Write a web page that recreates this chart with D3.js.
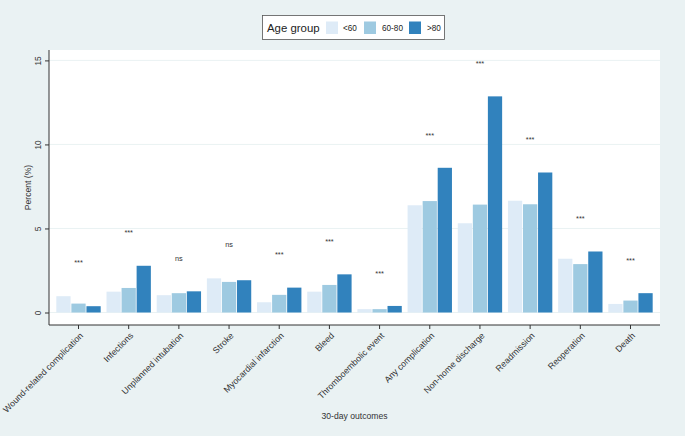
<!DOCTYPE html>
<html>
<head>
<meta charset="utf-8">
<script src="https://cdn.jsdelivr.net/npm/d3@7"></script>
<style>
  body { margin: 0; background: #eaf2f3; }
  svg { display: block; font-family: "Liberation Sans", Arial, sans-serif; }
</style>
</head>
<body>
<script>
// data
const outcomes = ["Wound-related complication", "Infections", "Unplanned intubation", "Stroke",
  "Myocardial infarction", "Bleed", "Thromboembolic event", "Any complication",
  "Non-home discharge", "Readmission", "Reoperation", "Death"];
const ageGroups = ["<60", "60-80", ">80"];
const under60 = [0.97, 1.24, 1.03, 2.03, 0.61, 1.24, 0.2, 6.38, 5.31, 6.65, 3.2, 0.51];
const from60to80 = [0.53, 1.46, 1.15, 1.82, 1.05, 1.64, 0.2, 6.63, 6.42, 6.44, 2.88, 0.71];
const over80 = [0.375, 2.78, 1.26, 1.92, 1.48, 2.27, 0.39, 8.61, 12.86, 8.33, 3.63, 1.15];
const sigLabels = ["***", "***", "ns", "ns", "***", "***", "***", "***", "***", "***", "***", "***"];
const sigHeights = [3.05, 4.85, 3.2, 4.04, 3.54, 4.34, 2.42, 10.65, 14.9, 10.4, 5.68, 3.17];
const yTicks = [0, 5, 10, 15];

const width = 685, height = 436;
const margin = { top: 50, right: 25, bottom: 111, left: 49 };
const colors = ["#deebf7", "#9ecae1", "#3182bd"];
const series = [under60, from60to80, over80];
const ink = "#333";

const svg = d3.select("body").append("svg")
  .attr("width", width).attr("height", height);

svg.append("rect").attr("width", width).attr("height", height).attr("fill", "#eaf2f3");

const x0 = d3.scaleBand()
  .domain(outcomes)
  .range([margin.left, width - margin.right])
  .paddingInner(0.1)
  .paddingOuter(0.138);

const x1 = d3.scaleBand()
  .domain(ageGroups)
  .range([0, x0.bandwidth()]);

const y = d3.scaleLinear()
  .domain([0, 15])
  .range([312.5, 60.4]);

// plot region
svg.append("rect")
  .attr("x", margin.left).attr("y", margin.top)
  .attr("width", width - margin.right - margin.left)
  .attr("height", height - margin.bottom - margin.top)
  .attr("fill", "#fff");

// grid
svg.append("g")
  .selectAll("line")
  .data(yTicks)
  .join("line")
  .attr("x1", margin.left).attr("x2", width - margin.right)
  .attr("y1", d => y(d)).attr("y2", d => y(d))
  .attr("stroke", "#eaf2f3").attr("stroke-width", 1);

// bars
const group = svg.append("g")
  .selectAll("g")
  .data(outcomes)
  .join("g")
  .attr("transform", d => `translate(${x0(d)},0)`);

group.selectAll("rect")
  .data((d, i) => ageGroups.map((a, j) => ({ key: a, value: series[j][i], j })))
  .join("rect")
  .attr("x", d => x1(d.key) + 0.4)
  .attr("width", x1.bandwidth() - 0.8)
  .attr("y", d => y(d.value))
  .attr("height", d => y(0) - y(d.value))
  .attr("fill", d => colors[d.j]);

// significance labels
svg.append("g")
  .selectAll("text")
  .data(outcomes)
  .join("text")
  .attr("x", d => x0(d) + x0.bandwidth() / 2)
  .attr("y", (d, i) => y(sigHeights[i]) + (sigLabels[i] === "ns" ? 2.5 : 4))
  .attr("text-anchor", "middle")
  .attr("font-size", 7.3)
  .attr("fill", ink)
  .text((d, i) => sigLabels[i]);

// y axis
const yAxis = svg.append("g")
  .attr("transform", `translate(${margin.left},0)`)
  .call(d3.axisLeft(y).tickValues(yTicks).tickSize(4))
  .call(g => g.select(".domain").attr("d", `M0,${margin.top}V${height - margin.bottom}`).attr("stroke", ink));
yAxis.selectAll(".tick line").attr("stroke", ink);
yAxis.selectAll(".tick text")
  .attr("font-size", 8.4)
  .attr("fill", ink)
  .attr("font-family", "Liberation Sans, Arial, sans-serif")
  .attr("text-anchor", "middle")
  .attr("x", 0)
  .attr("y", 0)
  .attr("dy", null)
  .attr("transform", "translate(-8,0) rotate(-90)");

// x axis
const xAxis = svg.append("g")
  .attr("transform", `translate(0,${height - margin.bottom})`)
  .call(d3.axisBottom(x0).tickSize(4).tickSizeOuter(0))
  .call(g => g.select(".domain").attr("d", `M${margin.left},0H${width - margin.right}`).attr("stroke", ink));
xAxis.selectAll(".tick line").attr("stroke", ink);
xAxis.selectAll(".tick text")
  .attr("font-size", 8.8)
  .attr("fill", ink)
  .attr("font-family", "Liberation Sans, Arial, sans-serif")
  .attr("text-anchor", "end")
  .attr("y", 0)
  .attr("dy", "0.35em")
  .attr("transform", "translate(3,9) rotate(-45)");

// axis titles
svg.append("text")
  .attr("transform", `translate(31,${(margin.top + height - margin.bottom) / 2}) rotate(-90)`)
  .attr("text-anchor", "middle")
  .attr("font-size", 8.6)
  .attr("fill", ink)
  .text("Percent (%)");

svg.append("text")
  .attr("x", (margin.left + width - margin.right) / 2)
  .attr("y", 418.5)
  .attr("text-anchor", "middle")
  .attr("font-size", 8.6)
  .attr("fill", ink)
  .text("30-day outcomes");

// legend
const legend = svg.append("g");
legend.append("rect")
  .attr("x", 262.5).attr("y", 15.5).attr("width", 182).attr("height", 24)
  .attr("fill", "#fff").attr("stroke", "#555").attr("stroke-width", 0.8);
legend.append("text")
  .attr("x", 267).attr("y", 32)
  .attr("font-size", 11.4)
  .attr("fill", "#222")
  .text("Age group");
const swatchX = [326, 364, 409];
const labelX = [343, 382, 427];
legend.selectAll("rect.sw")
  .data(ageGroups)
  .join("rect")
  .attr("class", "sw")
  .attr("x", (d, i) => swatchX[i]).attr("y", 21.5)
  .attr("width", 12).attr("height", 12.5)
  .attr("fill", (d, i) => colors[i]);
legend.selectAll("text.lb")
  .data(ageGroups)
  .join("text")
  .attr("class", "lb")
  .attr("x", (d, i) => labelX[i]).attr("y", 30.8)
  .attr("font-size", 8.2)
  .attr("fill", "#222")
  .text(d => d);
</script>
</body>
</html>
